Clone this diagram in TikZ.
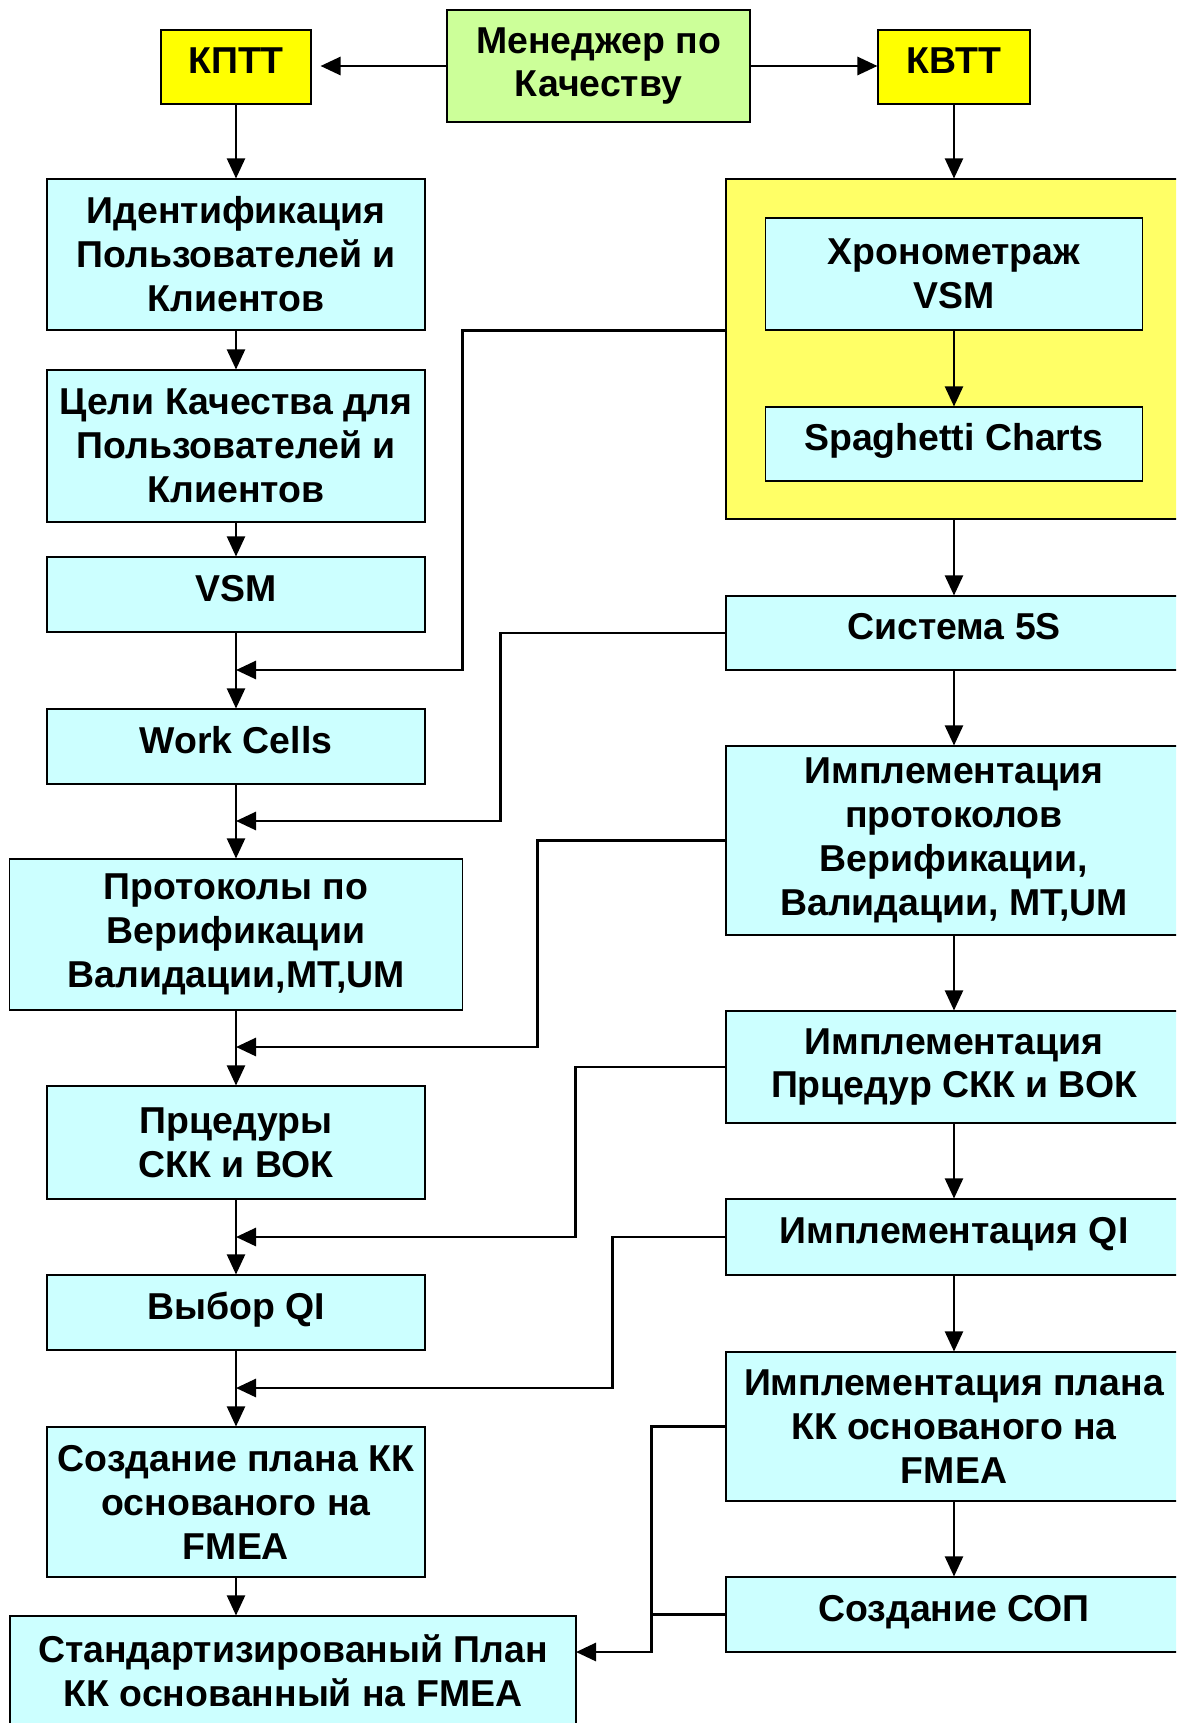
\documentclass[tikz,border=0pt]{standalone}
\usepackage{fontspec}
\setmainfont{Liberation Sans}
\usetikzlibrary{arrows.meta}

\definecolor{boxcyan}{HTML}{CCFFFF}
\definecolor{mgrgreen}{HTML}{CCFF99}
\definecolor{kyellow}{HTML}{FFFF00}
\definecolor{bgyellow}{HTML}{FFFF66}

\begin{document}
\begin{tikzpicture}[
		font=\fontsize{21.3}{25}\selectfont\bfseries,
		blok/.style={shape=rectangle, draw, line width=0.6pt, align=center, fill=boxcyan, inner sep=0pt},
		one/.style={text height=15pt, text depth=7.5pt},
		arr/.style={-{Triangle[length=0.4cm,width=0.36cm]}, line width=1.2pt},
		back/.style={arr, line width=1.6pt}]
	\useasboundingbox (0,0) rectangle (23.52,-34.46);
	\clip (0,0) rectangle (23.52,-34.46);

	% top row
	\node (t1)[blok, one, fill=kyellow, minimum width=3cm, minimum height=1.48cm]
	at (4.72,-1.34) {КПТТ};
	\node (t2)[blok, fill=mgrgreen, minimum width=6.06cm, minimum height=2.24cm]
	at (11.97,-1.32) {Менеджер по \\ Качеству};
	\node (t3)[blok, one, fill=kyellow, minimum width=3.04cm, minimum height=1.48cm]
	at (19.08,-1.34) {КВТТ};

	% left column
	\node (l1)[blok, minimum width=7.56cm, minimum height=3.02cm]
	at (4.72,-5.09) {Идентификация \\ Пользователей и \\ Клиентов};
	\node (l2)[blok, minimum width=7.56cm, minimum height=3.04cm]
	at (4.72,-8.92) {Цели Качества для \\ Пользователей и \\ Клиентов};
	\node (l3)[blok, one, minimum width=7.56cm, minimum height=1.5cm]
	at (4.72,-11.89) {VSM};
	\node (l4)[blok, one, minimum width=7.56cm, minimum height=1.5cm]
	at (4.72,-14.93) {Work Cells};
	\node (l5)[blok, minimum width=9.06cm, minimum height=3.02cm]
	at (4.72,-18.69) {Протоколы по \\ Верификации \\ Валидации,MT,UM};
	\node (l6)[blok, minimum width=7.56cm, minimum height=2.26cm]
	at (4.72,-22.85) {Прцедуры \\ СКК и ВОК};
	\node (l7)[blok, one, minimum width=7.56cm, minimum height=1.5cm]
	at (4.72,-26.25) {Выбор QI};
	\node (l8)[blok, minimum width=7.56cm, minimum height=3cm]
	at (4.72,-30.04) {Создание плана КК \\ основаного на \\ FMEA};
	\node (l9)[blok, minimum width=11.32cm, minimum height=2.2cm]
	at (5.86,-33.42) {Стандартизированый План \\ КК основанный на FMEA};

	% right column
	\node (r0)[blok, fill=bgyellow, minimum width=9.12cm, minimum height=6.8cm]
	at (19.08,-6.98) {};
	\node (r1)[blok, minimum width=7.54cm, minimum height=2.24cm]
	at (19.08,-5.48) {Хронометраж \\ VSM};
	\node (r2)[blok, one, minimum width=7.54cm, minimum height=1.48cm]
	at (19.08,-8.88) {Spaghetti Charts};
	\node (r3)[blok, one, minimum width=9.12cm, minimum height=1.48cm]
	at (19.08,-12.66) {Система 5S};
	\node (r4)[blok, minimum width=9.12cm, minimum height=3.78cm]
	at (19.08,-16.81) {Имплементация \\ протоколов \\ Верификации, \\ Валидации, MT,UM};
	\node (r5)[blok, minimum width=9.12cm, minimum height=2.24cm]
	at (19.08,-21.34) {Имплементация \\ Прцедур СКК и ВОК};
	\node (r6)[blok, one, minimum width=9.12cm, minimum height=1.52cm]
	at (19.08,-24.74) {Имплементация QI};
	\node (r7)[blok, minimum width=9.12cm, minimum height=2.98cm]
	at (19.08,-28.53) {Имплементация плана \\ КК основаного на \\ FMEA};
	\node (r8)[blok, one, minimum width=9.12cm, minimum height=1.5cm]
	at (19.08,-32.29) {Создание СОП};

	% merge points
	\coordinate (j1) at (4.72,-13.4);
	\coordinate (j2) at (4.72,-16.42);
	\coordinate (j3) at (4.72,-20.94);
	\coordinate (j4) at (4.72,-24.74);
	\coordinate (j5) at (4.72,-27.76);
	\coordinate (j6) at (11.52,-33.04);

	\path[back, shorten >=0.18cm] (t2.west) edge (t2.west -| t1.east);
	\path[back] (t2.east) edge (t2.east -| t3.west);
	\path[arr] (t1) edge (l1);
	\path[arr] (t3) edge (r0);

	\path[arr] (l1) edge (l2);
	\path[arr] (l2) edge (l3);
	\path[arr] (l3) edge (l4);
	\path[arr] (l4) edge (l5);
	\path[arr] (l5) edge (l6);
	\path[arr] (l6) edge (l7);
	\path[arr] (l7) edge (l8);
	\path[arr] (l8) edge (l8.south |- l9.north);

	\path[arr] (r1) edge (r2);
	\path[arr] (r0) edge (r3);
	\path[arr] (r3) edge (r4);
	\path[arr] (r4) edge (r5);
	\path[arr] (r5) edge (r6);
	\path[arr] (r6) edge (r7);
	\path[arr] (r7) edge (r8);

	\draw[back] (r0.west |- r1.south) -- ++(-5.26,0) |- (j1);
	\draw[back] (r3.west) -- ++(-4.5,0) |- (j2);
	\draw[back] (r4.west) -- ++(-3.76,0) |- (j3);
	\draw[back] (r5.west) -- ++(-3,0) |- (j4);
	\draw[back] (r6.west) -- ++(-2.26,0) |- (j5);
	\draw[back] (r7.west) -- ++(-1.48,0) |- (j6);
	\draw[line width=1.6pt] (r8.west) -- ++(-1.48,0);
\end{tikzpicture}
\end{document}
